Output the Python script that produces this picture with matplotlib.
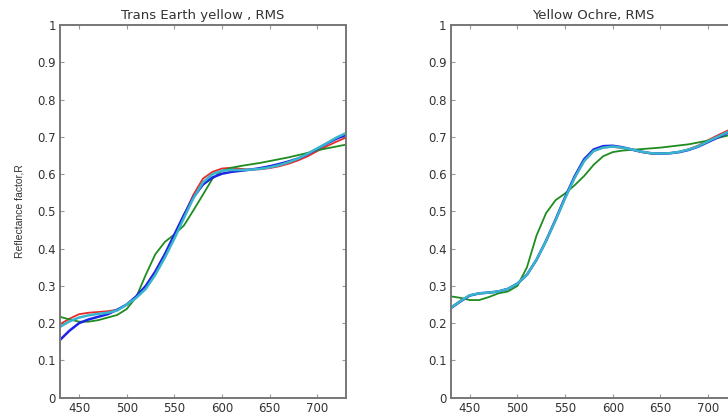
import matplotlib
matplotlib.use("Agg")
import matplotlib.pyplot as plt
from matplotlib.ticker import FuncFormatter

# wavelength grid, nm
wl = [430, 440, 450, 460, 470, 480, 490, 500, 510, 520, 530, 540, 550, 560, 570, 580,
      590, 600, 610, 620, 630, 640, 650, 660, 670, 680, 690, 700, 710, 720, 730]

# Trans Earth yellow
te_red = [0.197, 0.212, 0.224, 0.228, 0.230, 0.232, 0.236, 0.250, 0.270, 0.300, 0.340, 0.385,
          0.435, 0.490, 0.545, 0.588, 0.606, 0.615, 0.617, 0.614, 0.612, 0.613, 0.616, 0.621,
          0.628, 0.637, 0.648, 0.662, 0.675, 0.687, 0.698]
te_green = [0.217, 0.210, 0.204, 0.204, 0.208, 0.215, 0.222, 0.238, 0.270, 0.330, 0.385, 0.418,
            0.438, 0.462, 0.503, 0.545, 0.588, 0.609, 0.617, 0.622, 0.626, 0.630, 0.635, 0.640,
            0.645, 0.651, 0.657, 0.664, 0.669, 0.674, 0.679]
te_blue = [0.155, 0.180, 0.200, 0.210, 0.217, 0.224, 0.236, 0.250, 0.272, 0.300, 0.338, 0.385,
           0.438, 0.490, 0.538, 0.572, 0.591, 0.601, 0.606, 0.609, 0.612, 0.616, 0.621, 0.627,
           0.634, 0.642, 0.654, 0.668, 0.682, 0.695, 0.705]
te_cyan = [0.190, 0.205, 0.215, 0.221, 0.225, 0.228, 0.234, 0.250, 0.268, 0.292, 0.330, 0.376,
           0.427, 0.482, 0.536, 0.578, 0.600, 0.609, 0.611, 0.611, 0.612, 0.614, 0.618, 0.624,
           0.632, 0.642, 0.655, 0.669, 0.683, 0.698, 0.710]

# Yellow Ochre
yo_red = [0.242, 0.260, 0.275, 0.280, 0.282, 0.285, 0.292, 0.306, 0.330, 0.370, 0.420, 0.476,
          0.535, 0.590, 0.635, 0.662, 0.671, 0.673, 0.670, 0.665, 0.659, 0.655, 0.654, 0.656,
          0.660, 0.667, 0.677, 0.691, 0.704, 0.716, 0.726]
yo_green = [0.272, 0.268, 0.262, 0.262, 0.270, 0.280, 0.285, 0.300, 0.350, 0.435, 0.495, 0.530,
            0.548, 0.570, 0.595, 0.625, 0.648, 0.659, 0.663, 0.665, 0.667, 0.669, 0.671, 0.674,
            0.677, 0.680, 0.685, 0.690, 0.697, 0.703, 0.710]
yo_blue = [0.240, 0.258, 0.274, 0.280, 0.282, 0.285, 0.292, 0.306, 0.330, 0.370, 0.421, 0.478,
           0.538, 0.594, 0.640, 0.666, 0.675, 0.676, 0.672, 0.666, 0.660, 0.656, 0.655, 0.656,
           0.659, 0.665, 0.674, 0.686, 0.698, 0.710, 0.720]
yo_cyan = [0.241, 0.259, 0.275, 0.280, 0.282, 0.285, 0.292, 0.306, 0.330, 0.370, 0.420, 0.476,
           0.535, 0.590, 0.635, 0.662, 0.671, 0.674, 0.671, 0.666, 0.660, 0.656, 0.655, 0.656,
           0.660, 0.666, 0.675, 0.688, 0.700, 0.712, 0.722]

titles = ["Trans Earth yellow , RMS", "Yellow Ochre, RMS"]
xticks = [450, 500, 550, 600, 650, 700]
yticks = [0, 0.1, 0.2, 0.3, 0.4, 0.5, 0.6, 0.7, 0.8, 0.9, 1.0]

plt.rcParams['font.family'] = ['DejaVu Sans']

fig = plt.figure(figsize=(7.28, 4.15), dpi=100)
W, H = 728.0, 415.0
# right panel runs past the edge of the figure, like the reference crop
ax1 = fig.add_axes([60 / W, 17.3 / H, 286 / W, 372.7 / H])
ax2 = fig.add_axes([450.7 / W, 17.3 / H, 286 / W, 372.7 / H])

panels = [
    (ax1, te_red, te_green, te_blue, te_cyan),
    (ax2, yo_red, yo_green, yo_blue, yo_cyan),
]

for i, (ax, r, g, b, c) in enumerate(panels):
    ax.plot(wl, r, color='#e82a2a', lw=1.3)
    ax.plot(wl, g, color='#1e8c1e', lw=1.3)
    ax.plot(wl, b, color='#1c24e6', lw=1.8)
    ax.plot(wl, c, color='#38b4cc', lw=1.8)
    ax.set_xlim(430, 730)
    ax.set_ylim(0, 1)
    ax.set_xticks(xticks)
    ax.set_yticks(yticks)
    ax.yaxis.set_major_formatter(FuncFormatter(lambda v, p: '%g' % round(v, 1)))
    ax.tick_params(direction='in', length=3, width=0.8, color='#999999',
                   top=True, right=True, labelsize=8.5, labelcolor='#333333', pad=3)
    for s in ax.spines.values():
        s.set_color('#777777')
        s.set_linewidth(1.4)
    ax.set_title(titles[i], fontsize=9.5, color='#333333', pad=4)

ax1.set_ylabel('Reflectance factor,R', family=['Liberation Sans'], fontsize=7.5,
               color='#333333', labelpad=9)

fig.savefig('out.png', dpi=100)
